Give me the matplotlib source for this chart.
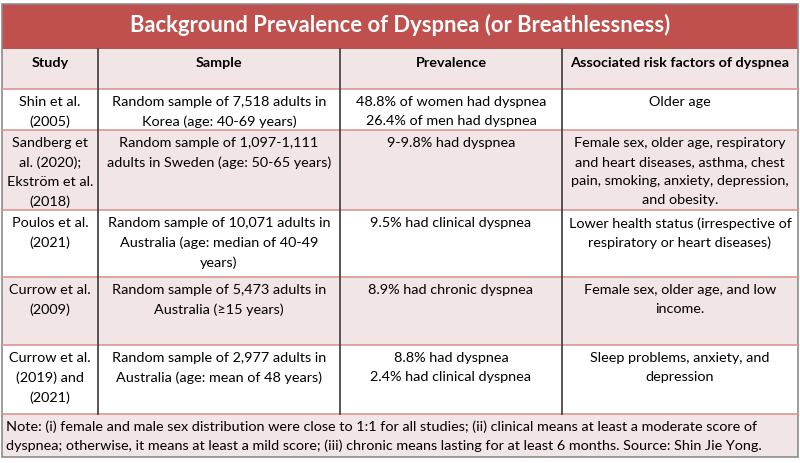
import matplotlib.pyplot as plt
from matplotlib.patches import Rectangle

plt.rcParams['font.family'] = ['Lato', 'DejaVu Sans']

title = "Background Prevalence of Dyspnea (or Breathlessness)"
headers = ["Study", "Sample", "Prevalence", "Associated risk factors of dyspnea"]
studies = ["Shin et al.\n(2005)",
           "Sandberg et\nal. (2020);\nEkström et al.\n(2018)",
           "Poulos et al.\n(2021)",
           "Currow et al.\n(2009)",
           "Currow et al.\n(2019) and\n(2021)"]
samples = ["Random sample of 7,518 adults in\nKorea (age: 40-69 years)",
           "Random sample of 1,097-1,111\nadults in Sweden (age: 50-65 years)",
           "Random sample of 10,071 adults in\nAustralia (age: median of 40-49\nyears)",
           "Random sample of 5,473 adults in\nAustralia (≥15 years)",
           "Random sample of 2,977 adults in\nAustralia (age: mean of 48 years)"]
prevalence = ["48.8% of women had dyspnea\n26.4% of men had dyspnea",
              "9-9.8% had dyspnea",
              "9.5% had clinical dyspnea",
              "8.9% had chronic dyspnea",
              "8.8% had dyspnea\n2.4% had clinical dyspnea"]
risk_factors = ["Older age",
                "Female sex, older age, respiratory\nand heart diseases, asthma, chest\npain, smoking, anxiety, depression,\nand obesity.",
                "Lower health status (irrespective of\nrespiratory or heart diseases)",
                "Female sex, older age, and low\nincome.",
                "Sleep problems, anxiety, and\ndepression"]
note = ("Note: (i) female and male sex distribution were close to 1:1 for all studies; (ii) clinical means at least a moderate score of\n"
        "dyspnea; otherwise, it means at least a mild score; (iii) chronic means lasting for at least 6 months. Source: Shin Jie Yong.")

# layout in pixels
col_x = [2, 98, 340, 562, 798]
row_y = [50, 90, 131, 211, 278, 346, 415, 458]
red = "#C0504D"
pink = "#F2E5E5"
rule = "#D99694"
fs = 10.4
ls = 1.7

fig = plt.figure(figsize=(8, 4.64), dpi=100)
ax = fig.add_axes([0, 0, 1, 1])
ax.set_xlim(0, 800)
ax.set_ylim(464, 0)
ax.axis("off")

# title bar
ax.add_patch(Rectangle((col_x[0], 5), col_x[-1] - col_x[0], row_y[0] - 5, color=red, lw=0))
ax.text(400, 25, title, color="white", fontsize=15.8, fontweight="bold", ha="center", va="center")

# row fills
fills = [pink, "white", pink, "white", pink, "white", pink]
for i, c in enumerate(fills):
    ax.add_patch(Rectangle((col_x[0], row_y[i]), col_x[-1] - col_x[0], row_y[i + 1] - row_y[i], color=c, lw=0))

# horizontal rules
for y in row_y[1:-1]:
    ax.plot([col_x[0], col_x[-1]], [y, y], color=rule, lw=1.2)

# vertical rules
for x in col_x[1:-1]:
    ax.plot([x, x], [row_y[0], row_y[-2]], color="#3a3a3a", lw=1.2)

# outer border
ax.add_patch(Rectangle((col_x[0], 5), col_x[-1] - col_x[0], row_y[-1] - 5, fill=False, ec="#8c8c8c", lw=1.2))

# header
for j, h in enumerate(headers):
    cx = (col_x[j] + col_x[j + 1]) / 2
    ax.text(cx, row_y[0] + 7, h, fontsize=fs, fontweight="bold", ha="center", va="top", linespacing=ls)

# body
columns = [studies, samples, prevalence, risk_factors]
for i in range(len(studies)):
    top = row_y[i + 1] + 6
    for j, col in enumerate(columns):
        cx = (col_x[j] + col_x[j + 1]) / 2
        ax.text(cx, top, col[i], fontsize=fs, ha="center", va="top", linespacing=ls, multialignment="center")

ax.text(6, row_y[-2] + 5, note, fontsize=fs, ha="left", va="top", linespacing=ls)

fig.savefig("out.png", dpi=100)
